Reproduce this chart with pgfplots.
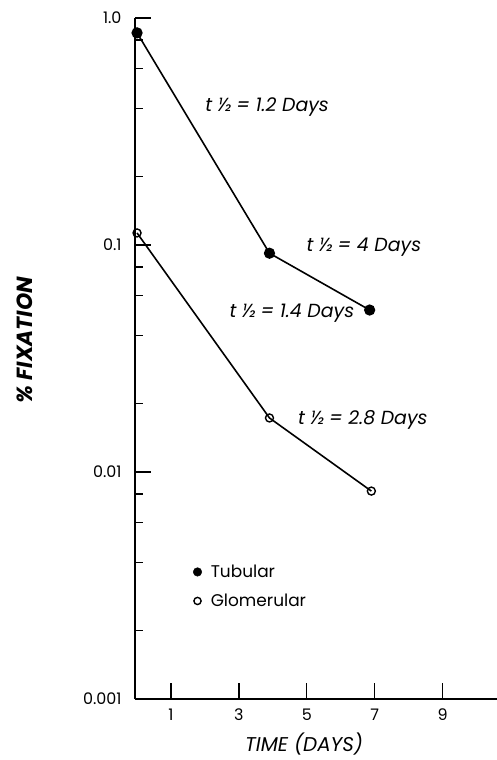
\documentclass[border=0pt]{standalone}
\usepackage{fontspec}
\setmainfont{Poppins}
\usepackage{pgfplots}
\pgfplotsset{compat=1.18}
\newcommand{\thalf}[1]{\itshape t ½ = #1 Days}
\begin{document}
\begin{tikzpicture}[x=1bp,y=1bp]
\path[use as bounding box] (0,0) rectangle (497,760);
\begin{axis}[
  at={(135bp,61bp)}, anchor=south west,
  width=362bp, height=681bp, scale only axis,
  ymode=log, ymin=0.001, ymax=1.0,
  xmin=-0.06, xmax=10.6,
  axis lines=left,
  axis line style={line width=1.4pt, -},
  xtick={1,3,5,7,9},
  ytick={0.001,0.01,0.1,1},
  yticklabels={0.001,0.01,0.1,1.0},
  minor ytick={0.002,0.004,0.006,0.008,0.02,0.04,0.06,0.08,0.2,0.4,0.6,0.8},
  major tick length=16bp, minor tick length=8bp,
  tick style={line width=1.2pt, black},
  tick align=inside,
  /pgf/number format/assume math mode=true,
  ticklabel style={font=\fontsize{16}{16}\selectfont},
  yticklabel style={xshift=-10bp},
  xticklabel style={yshift=-6bp},
  xlabel={\itshape TIME (DAYS)},
  ylabel={\itshape\bfseries \% FIXATION},
  xlabel style={font=\fontsize{20}{20}\selectfont, at={(axis description cs:0.467,-0.066)}, anchor=center},
  ylabel style={font=\fontsize{22}{22}\selectfont, at={(axis description cs:-0.304,0.527)}, anchor=center},
  legend style={draw=none, fill=none, at={(axis description cs:0.152,0.203)}, anchor=north west,
    font=\fontsize{17}{17}\selectfont, row sep=11bp},
  legend cell align=left,
  clip=false,
]
\addplot[black, line width=1.6pt, mark=*, mark size=4.8bp, mark options={solid, fill=black}, forget plot]
  coordinates {(0,0.86) (3.9,0.092) (6.85,0.0517)};
\addplot[black, line width=1.6pt, mark=o, mark size=4bp, mark options={solid, fill=white, line width=1.4pt}, forget plot]
  coordinates {(0,0.113) (3.9,0.0173) (6.9,0.00824)};
\addlegendimage{only marks, mark=*, mark size=4.3bp, black}
\addlegendentry{\hspace{7bp}Tubular}
\addlegendimage{only marks, mark=o, mark size=3.6bp, black, mark options={line width=1.4pt}}
\addlegendentry{\hspace{7bp}Glomerular}
\node[font=\fontsize{19}{19}\selectfont] at (axis cs:3.83,0.405) {\thalf{1.2}};
\node[font=\fontsize{19}{19}\selectfont] at (axis cs:6.68,0.098) {\thalf{4}};
\node[font=\fontsize{19}{19}\selectfont] at (axis cs:4.56,0.0501) {\thalf{1.4}};
\node[font=\fontsize{19}{19}\selectfont] at (axis cs:6.65,0.0169) {\thalf{2.8}};
\end{axis}
\end{tikzpicture}
\end{document}
